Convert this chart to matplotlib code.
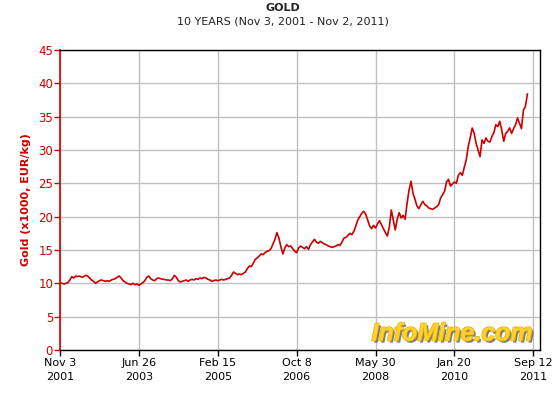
"""
Gold price in EUR/kg over ten years, InfoMine style
"""
import matplotlib
matplotlib.use('Agg')
import matplotlib.pyplot as plt
import matplotlib.patheffects as pe
import pandas as pd

# gold price (x1000 EUR/kg), one reading every 15 days from Nov 3, 2001
gold_price = [
    10.1, 10.0, 9.9, 10.0, 10.1, 10.5, 11.0, 10.8, 11.1, 11.0,
    11.1, 10.9, 11.0, 11.2, 11.1, 10.8, 10.5, 10.3, 10.0, 10.2,
    10.4, 10.5, 10.4, 10.3, 10.4, 10.3, 10.5, 10.6, 10.7, 10.9,
    11.1, 10.8, 10.4, 10.2, 10.0, 9.9, 9.8, 10.0, 9.8, 9.9,
    9.7, 9.9, 10.1, 10.4, 10.9, 11.1, 10.7, 10.5, 10.4, 10.7,
    10.8, 10.7, 10.6, 10.6, 10.5, 10.5, 10.4, 10.7, 11.2, 10.9,
    10.4, 10.2, 10.3, 10.4, 10.5, 10.3, 10.5, 10.6, 10.5, 10.7,
    10.6, 10.8, 10.7, 10.9, 10.8, 10.6, 10.5, 10.3, 10.4, 10.5,
    10.4, 10.5, 10.6, 10.5, 10.6, 10.7, 10.8, 11.2, 11.7, 11.5,
    11.3, 11.4, 11.3, 11.5, 11.7, 12.2, 12.6, 12.5, 13.0, 13.6,
    13.8, 14.1, 14.4, 14.3, 14.6, 14.8, 14.9, 15.2, 15.9, 16.6,
    17.6, 16.8, 15.5, 14.4, 15.3, 15.8, 15.5, 15.6, 15.2, 14.8,
    14.6, 15.3, 15.6, 15.4, 15.2, 15.5, 15.1, 15.8, 16.2, 16.6,
    16.2, 16.0, 16.3, 16.1, 15.9, 15.8, 15.6, 15.5, 15.4, 15.5,
    15.6, 15.8, 15.7, 16.2, 16.8, 16.9, 17.2, 17.5, 17.3, 17.8,
    18.6, 19.5, 20.0, 20.5, 20.8, 20.4, 19.5, 18.6, 18.2, 18.7,
    18.3, 18.9, 19.4, 18.8, 18.2, 17.6, 17.1, 18.5, 21.0, 19.5,
    18.0, 19.6, 20.6, 19.8, 20.2, 19.6, 22.0, 24.0, 25.3, 23.5,
    22.6, 21.6, 21.2, 21.8, 22.3, 21.8, 21.6, 21.3, 21.2, 21.1,
    21.3, 21.5, 21.8, 22.8, 23.3, 23.8, 25.2, 25.6, 24.6, 24.9,
    25.2, 25.0, 26.2, 26.6, 26.2, 27.4, 28.5, 30.5, 31.8, 33.3,
    32.5, 31.0, 30.0, 29.0, 31.5, 31.0, 31.8, 31.3, 31.2, 32.0,
    32.6, 33.8, 33.5, 34.3, 33.0, 31.3, 32.5, 32.8, 33.3, 32.5,
    33.2, 33.8, 34.8, 34.0, 33.2, 36.0, 36.5, 38.4,
]
price_dates = pd.date_range('2001-11-03', periods=len(gold_price), freq='15D')

tick_dates = pd.to_datetime(['2001-11-03', '2003-06-26', '2005-02-15', '2006-10-08',
                             '2008-05-30', '2010-01-20', '2011-09-12'])
tick_labels = ['Nov 3\n2001', 'Jun 26\n2003', 'Feb 15\n2005', 'Oct 8\n2006',
               'May 30\n2008', 'Jan 20\n2010', 'Sep 12\n2011']
y_ticks = list(range(0, 46, 5))

red = '#cc0000'
grid_grey = '#c0c0c0'

fig = plt.figure(figsize=(5.6, 4.0), dpi=100)
fig.patch.set_facecolor('white')
ax = fig.add_axes([60 / 560, 50 / 400, 480 / 560, 300 / 400])

ax.plot(price_dates, gold_price, color=red, linewidth=1.2, zorder=3)

ax.set_xlim(pd.Timestamp('2001-11-03'), pd.Timestamp('2011-11-02'))
ax.set_ylim(0, 45)
ax.set_xticks(tick_dates)
ax.set_xticklabels(tick_labels, fontsize=8, color='black', linespacing=1.45)
ax.set_yticks(y_ticks)
ax.set_yticklabels([str(v) for v in y_ticks], fontsize=8.5, color=red)

ax.grid(True, color=grid_grey, linewidth=1.0, zorder=0)
ax.set_axisbelow(True)

for side in ['top', 'right', 'bottom']:
    ax.spines[side].set_color('black')
    ax.spines[side].set_linewidth(1.0)
ax.spines['left'].set_color(red)
ax.spines['left'].set_linewidth(1.2)
ax.tick_params(axis='x', colors='black', length=4, width=1, pad=2)
ax.tick_params(axis='y', colors=red, length=4, width=1, pad=1)

ax.set_ylabel('Gold (x1000, EUR/kg)', color=red, fontsize=8, fontweight='bold', labelpad=5)

fig.text(0.505, 1 - 8 / 400, 'GOLD', ha='center', va='center', fontsize=8, fontweight='bold',
         color='#222222')
fig.text(0.505, 1 - 22 / 400, '10 YEARS (Nov 3, 2001 - Nov 2, 2011)', ha='center', va='center',
         fontsize=8, color='#222222')

# watermark
ax.text(0.985, 0.055, 'InfoMine.com', transform=ax.transAxes, ha='right', va='center',
        fontsize=18, fontweight='bold', style='italic', family='Liberation Sans',
        color='#ffd22e', zorder=4,
        path_effects=[pe.withSimplePatchShadow(offset=(1.5, -1.5), shadow_rgbFace='#666666', alpha=0.85),
                      pe.Stroke(linewidth=1.0, foreground='#e8b000'), pe.Normal()])

fig.savefig('out.png', dpi=100, facecolor='white')
